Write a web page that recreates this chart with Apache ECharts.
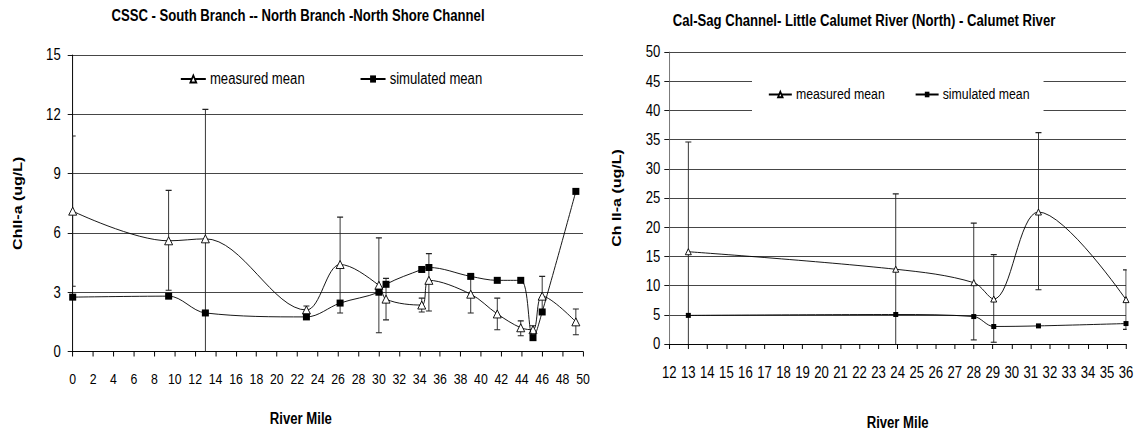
<!DOCTYPE html>
<html>
<head>
<meta charset="utf-8">
<script src="https://cdn.jsdelivr.net/npm/echarts@6/dist/echarts.min.js"></script>
<style>
html,body{margin:0;padding:0;background:#fff;overflow:hidden;width:1138px;height:436px;}
#c{width:1388px;height:436px;transform:scaleX(0.82);transform-origin:0 0;}
</style>
</head>
<body>
<div id="c"></div>
<script>
// ---- Left chart: CSSC - South Branch -- North Branch -North Shore Channel ----
const leftMiles         = [0, 9.4, 13, 22.9, 26.2, 30, 30.7, 34.2, 34.9, 39, 41.6, 43.9, 45.1, 46, 49.3];
const leftMeasured      = [7.1, 5.6, 5.7, 2.1, 4.4, 3.35, 2.65, 2.35, 3.6, 2.9, 1.9, 1.2, 1.1, 2.8, 1.5];
const leftMeasuredLow   = [3.3, 3.1, -1, 1.9, 1.95, 0.95, 1.6, 2.0, 2.05, 1.95, 1.1, 0.8, 0.9, 2.0, 0.85];
const leftMeasuredHigh  = [10.9, 8.15, 12.25, 2.3, 6.8, 5.75, 3.7, 2.7, 4.95, 3.85, 2.7, 1.55, 1.3, 3.8, 2.15];
const leftSimulated     = [2.75, 2.8, 1.95, 1.75, 2.45, 3.0, 3.4, 4.15, 4.25, 3.8, 3.6, 3.6, 0.7, 2.0, 8.1];

// ---- Right chart: Cal-Sag Channel- Little Calumet River (North) - Calumet River ----
const rightMiles        = [13, 23.9, 28, 29.05, 31.4, 36];
const rightMeasured     = [15.8, 12.8, 10.5, 7.7, 22.6, 7.6];
const rightMeasuredLow  = [-2, -2, 0.7, 0.3, 9.3, 2.5];
const rightMeasuredHigh = [34.6, 25.7, 20.7, 15.3, 36.2, 12.7];
const rightSimulated    = [4.9, 5.05, 4.7, 3.0, 3.1, 3.5];

const leftTitle  = 'CSSC - South Branch -- North Branch -North Shore Channel';
const rightTitle = 'Cal-Sag Channel- Little Calumet River (North) - Calumet River';
const yName = 'Chll-a (ug/L)';
const yNameRight = 'Ch ll-a (ug/L)';
const xName = 'River Mile';
const legendNames = ['measured mean', 'simulated mean'];

// The page is drawn 1/0.82 wider and squeezed horizontally (narrow-font look).
const SX = 0.82;
const X = v => v / SX;

const FONT = "'Liberation Sans',Arial,sans-serif";

function pairs(xs, ys){ return xs.map((x,i)=>[x, ys[i]]); }
function triples(xs, lo, hi){ return xs.map((x,i)=>[x, lo[i], hi[i]]); }

function errRender(params, api){
  const x = api.value(0), lo = api.value(1), hi = api.value(2);
  const pH = api.coord([x, hi]), pL = api.coord([x, lo]);
  const hw = X(3);
  const st = {stroke:'#222', lineWidth:1.1};
  return {type:'group', children:[
    {type:'line', shape:{x1:pH[0], y1:pH[1], x2:pL[0], y2:pL[1]}, style:st},
    {type:'line', shape:{x1:pH[0]-hw, y1:pH[1], x2:pH[0]+hw, y2:pH[1]}, style:st},
    {type:'line', shape:{x1:pL[0]-hw, y1:pL[1], x2:pL[0]+hw, y2:pL[1]}, style:st}
  ]};
}

const chart = echarts.init(document.getElementById('c'), null, {renderer:'svg', width:1388, height:436});

const axisText = {color:'#000', fontFamily:FONT};

chart.setOption({
  animation:false,
  backgroundColor:'#fff',
  textStyle:{fontFamily:FONT, color:'#000'},
  title:[
    {text:leftTitle, left:X(298), top:8, textAlign:'center', padding:0,
     textStyle:{fontSize:16, fontWeight:'bold', color:'#000', fontFamily:FONT}},
    {text:rightTitle, left:X(864), top:13, textAlign:'center', padding:0,
     textStyle:{fontSize:16, fontWeight:'bold', color:'#000', fontFamily:FONT}}
  ],
  legend:[
    {data:legendNames, left:X(180), top:71, padding:0, itemGap:X(55), itemWidth:X(25), itemHeight:9,
     textStyle:{fontSize:16, color:'#000', fontFamily:FONT}},
    {data:legendNames, left:X(752), top:68, padding:[19, X(14), 19, X(16)], itemGap:X(30), itemWidth:X(23), itemHeight:7,
     backgroundColor:'#fff', textStyle:{fontSize:15, color:'#000', fontFamily:FONT}}
  ],
  grid:[
    {left:X(72.7), top:55, width:X(510.3), height:296.5},
    {left:X(669.3), top:52, width:X(456.7), height:300}
  ],
  xAxis:[
    {gridIndex:0, type:'value', min:0, max:50, interval:2,
     name:xName, nameLocation:'middle', nameGap:59,
     nameTextStyle:{fontSize:16, fontWeight:'bold', color:'#000', fontFamily:FONT, padding:[0,X(54),0,0]},
     axisLine:{show:true, onZero:false, lineStyle:{color:'#000', width:1}},
     axisTick:{show:true, inside:false, length:5, lineStyle:{color:'#000', width:1.2}},
     axisLabel:Object.assign({fontSize:15, margin:20}, axisText),
     splitLine:{show:false}},
    {gridIndex:1, type:'value', min:12, max:36, interval:1,
     name:xName, nameLocation:'middle', nameGap:71,
     nameTextStyle:{fontSize:16, fontWeight:'bold', color:'#000', fontFamily:FONT},
     axisLine:{show:true, onZero:false, lineStyle:{color:'#000', width:1}},
     axisTick:{show:true, inside:false, length:5, lineStyle:{color:'#000', width:1.2}},
     axisLabel:Object.assign({fontSize:16, margin:21}, axisText),
     splitLine:{show:false}}
  ],
  yAxis:[
    {gridIndex:0, type:'value', min:0, max:15, interval:3,
     name:yName, nameLocation:'middle', nameGap:59.5, nameRotate:90,
     nameTextStyle:{fontSize:16, fontWeight:'bold', color:'#000', fontFamily:FONT},
     axisLine:{show:true, lineStyle:{color:'#000', width:1.2}},
     axisTick:{show:true, inside:false, length:X(5), lineStyle:{color:'#000'}},
     axisLabel:Object.assign({fontSize:16, margin:X(12)}, axisText),
     splitLine:{show:true, lineStyle:{color:'#333', width:1}}},
    {gridIndex:1, type:'value', min:0, max:50, interval:5,
     name:yNameRight, nameLocation:'middle', nameGap:56, nameRotate:90,
     nameTextStyle:{fontSize:16, fontWeight:'bold', color:'#000', fontFamily:FONT},
     axisLine:{show:true, lineStyle:{color:'#777', width:1.2}},
     axisTick:{show:true, inside:false, length:X(5), lineStyle:{color:'#000'}},
     axisLabel:Object.assign({fontSize:16, margin:X(9)}, axisText),
     splitLine:{show:true, lineStyle:{color:'#333', width:1}}}
  ],
  series:[
    {type:'custom', name:'measured range L', xAxisIndex:0, yAxisIndex:0, z:1, clip:true,
     renderItem:errRender, encode:{x:0, y:[1,2]}, data:triples(leftMiles, leftMeasuredLow, leftMeasuredHigh), silent:true},
    {type:'line', name:'measured mean', xAxisIndex:0, yAxisIndex:0, z:3,
     smooth:0.35, symbol:'triangle', symbolSize:[X(8),8], showSymbol:true, showAllSymbol:true,
     lineStyle:{color:'#000', width:1}, itemStyle:{color:'#fff', borderColor:'#000', borderWidth:1},
     data:pairs(leftMiles, leftMeasured)},
    {type:'line', name:'simulated mean', xAxisIndex:0, yAxisIndex:0, z:4,
     smooth:0.35, symbol:'rect', symbolSize:[X(7),7], showSymbol:true, showAllSymbol:true,
     lineStyle:{color:'#000', width:1}, itemStyle:{color:'#000', borderColor:'#000', borderWidth:0},
     data:pairs(leftMiles, leftSimulated)},

    {type:'custom', name:'measured range R', xAxisIndex:1, yAxisIndex:1, z:1, clip:true,
     renderItem:errRender, encode:{x:0, y:[1,2]}, data:triples(rightMiles, rightMeasuredLow, rightMeasuredHigh), silent:true},
    {type:'line', name:'measured mean', xAxisIndex:1, yAxisIndex:1, z:3,
     smooth:0.35, symbol:'triangle', symbolSize:[X(6),6], showSymbol:true, showAllSymbol:true,
     lineStyle:{color:'#000', width:1}, itemStyle:{color:'#fff', borderColor:'#000', borderWidth:1},
     data:pairs(rightMiles, rightMeasured)},
    {type:'line', name:'simulated mean', xAxisIndex:1, yAxisIndex:1, z:4,
     smooth:0.35, symbol:'rect', symbolSize:[X(5),5], showSymbol:true, showAllSymbol:true,
     lineStyle:{color:'#000', width:1}, itemStyle:{color:'#000', borderColor:'#000', borderWidth:0},
     data:pairs(rightMiles, rightSimulated)}
  ]
});
</script>
</body>
</html>
